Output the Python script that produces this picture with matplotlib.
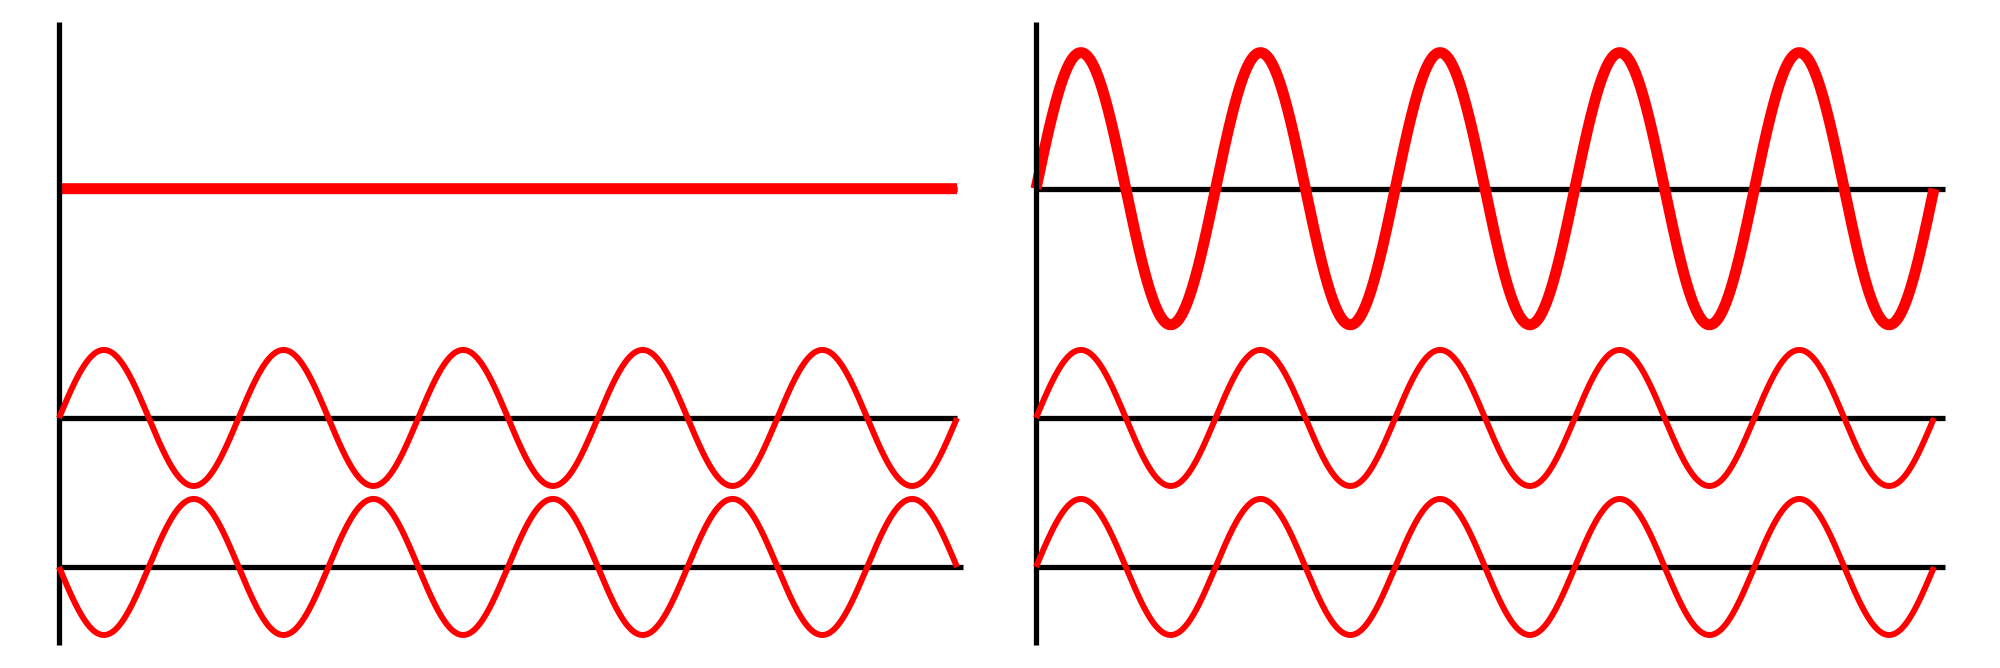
import numpy as np
import matplotlib
matplotlib.use("Agg")
import matplotlib.pyplot as plt

# ---- data -------------------------------------------------------------
cycles = 5                      # number of full wavelengths drawn
amplitude = 1.0                 # amplitude of a single component wave
baselines = [5.56, 2.19, 0.0]   # top (sum), middle, bottom wave baselines
# left panel: destructive interference (phases 0 and pi)
left_phases = [0.0, np.pi]
# right panel: constructive interference (phases 0 and 0)
right_phases = [0.0, 0.0]

W, H = 2000, 668
fig = plt.figure(figsize=(W / 100, H / 100), dpi=100)

RED = "#ff0000"
BLACK = "#000000"
lw_axis = 3.8
lw_thin = 4.3
lw_thick = 7.9

y_lo, y_hi = -1.147, 8.01


def panel(x0_px, wave_end_px, line_ends_px, phases):
    width_px = max(line_ends_px) - x0_px
    ax = fig.add_axes([x0_px / W, (H - 645) / H, width_px / W, (645 - 22) / H])
    scale = cycles / (wave_end_px - x0_px)
    xmax = width_px * scale
    ax.set_xlim(0, xmax)
    ax.set_ylim(y_lo, y_hi)
    ax.axis("off")
    # vertical axis line
    ax.plot([0, 0], [y_lo, y_hi], color=BLACK, lw=lw_axis, zorder=3,
            solid_capstyle="butt", clip_on=False)
    # baselines for the component waves and the sum
    for b, e in zip(baselines, line_ends_px):
        ax.plot([0, (e - x0_px) * scale], [b, b], color=BLACK, lw=lw_axis,
                zorder=1, solid_capstyle="butt", clip_on=False)
    x = np.linspace(0, cycles, 2000)
    w1 = amplitude * np.sin(2 * np.pi * x + phases[0])
    w2 = amplitude * np.sin(2 * np.pi * x + phases[1])
    total = w1 + w2
    ax.plot(x, baselines[1] + w1, color=RED, lw=lw_thin, zorder=4,
            solid_capstyle="butt", clip_on=False)
    ax.plot(x, baselines[2] + w2, color=RED, lw=lw_thin, zorder=4,
            solid_capstyle="butt", clip_on=False)
    ax.plot(x, baselines[0] + total, color=RED, lw=lw_thick, zorder=2,
            solid_capstyle="butt", clip_on=False)
    return ax


panel(59, 957, [957, 957, 963], left_phases)
panel(1036, 1934, [1945, 1945, 1945], right_phases)

fig.savefig("out.png", dpi=100, facecolor="white")
